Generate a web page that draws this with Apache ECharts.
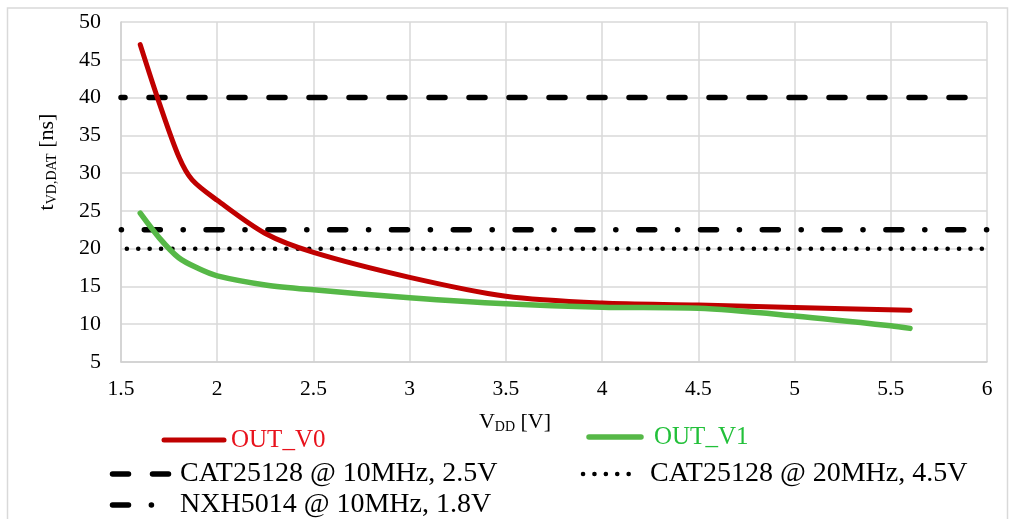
<!DOCTYPE html>
<html>
<head>
<meta charset="utf-8">
<script src="https://cdn.jsdelivr.net/npm/echarts@6/dist/echarts.min.js"></script>
<style>
  html, body { margin: 0; padding: 0; background: #fff; }
  #main { width: 1009px; height: 519px; }
</style>
</head>
<body>
<div id="main"></div>
<script>
// VDD [V] and tVD,DAT [ns]
var vddV0 = [1.6, 1.7, 1.8, 1.87, 2.0, 2.25, 2.5, 3.0, 3.5, 4.0, 4.5, 5.0, 5.6];
var tV0 = [47, 39.2, 32.2, 29.1, 26.4, 22.0, 19.5, 16.2, 13.7, 12.8, 12.55, 12.2, 11.85];
var vddV1 = [1.6, 1.7, 1.8, 1.9, 2.0, 2.25, 2.5, 3.0, 3.5, 4.0, 4.5, 5.0, 5.5, 5.6];
var tV1 = [24.7, 21.4, 18.8, 17.4, 16.4, 15.2, 14.55, 13.5, 12.7, 12.25, 12.1, 11.1, 9.8, 9.45];

// reference limits (horizontal lines over the whole range)
var refNames = ['CAT25128 @ 10MHz, 2.5V', 'CAT25128 @ 20MHz, 4.5V', 'NXH5014 @ 10MHz, 1.8V'];
var refLevels = [40, 20, 22.5];
var refRange = [1.5, 6];

var xTicks = [1.5, 6, 0.5];
var yTicks = [5, 50, 5];

var serif = 'Liberation Serif';

// line styles shared by the plot lines and the legend keys
var styleCat10 = { stroke: '#000', lineWidth: 5.5, lineDash: [16, 24], lineCap: 'round' };
var styleCat20 = { stroke: '#000', lineWidth: 4.5, lineDash: [0.1, 11.3], lineCap: 'round' };
var styleNxh = { stroke: '#000', lineWidth: 5.5, lineDash: [16, 22.85, 0.1, 22.85], lineCap: 'round' };

function pairs(xs, ys) {
    var out = [];
    for (var i = 0; i < xs.length; i++) {
        out.push([xs[i], ys[i]]);
    }
    return out;
}

function flat(level) {
    return [[refRange[0], level], [refRange[1], level]];
}

// legend key: a short line and its label
function key(x1, x2, y, style, text, textX, size, color) {
    return [
        {
            type: 'line', silent: true,
            shape: { x1: x1, y1: y, x2: x2, y2: y },
            style: style
        },
        {
            type: 'text', silent: true,
            x: textX, y: y,
            style: {
                text: text, fill: color, font: size + 'px "' + serif + '"',
                textVerticalAlign: 'middle', verticalAlign: 'middle'
            }
        }
    ];
}

var legendItems = [].concat(
    key(164, 224, 440, { stroke: '#c00000', lineWidth: 5, lineCap: 'round' }, 'OUT_V0', 231, 25, '#e8121c'),
    key(589, 641, 437, { stroke: '#56b847', lineWidth: 5.5, lineCap: 'round' }, 'OUT_V1', 654, 25, '#22c03a'),
    key(112.5, 169.5, 474, styleCat10, refNames[0], 180, 28, '#000'),
    key(583, 640, 474, styleCat20, refNames[1], 650, 28, '#000'),
    key(112.5, 154, 505, styleNxh, refNames[2], 180, 28, '#000')
);

var chart = echarts.init(document.getElementById('main'));

var option = {
    animation: false,
    backgroundColor: '#fff',
    grid: { left: 121, right: 22, top: 22, bottom: 157 },
    graphic: [{
        type: 'rect',
        shape: { x: 7.5, y: 8, width: 1000, height: 530 },
        style: { fill: 'none', stroke: '#d9d9d9', lineWidth: 1.5 },
        silent: true
    }].concat(legendItems),
    xAxis: {
        type: 'value',
        min: xTicks[0], max: xTicks[1], interval: xTicks[2],
        axisLine: { lineStyle: { color: '#d0d0d0', width: 1.5 } },
        axisTick: { show: false },
        splitLine: { lineStyle: { color: '#d9d9d9', width: 1.5 } },
        axisLabel: { fontFamily: serif, fontSize: 21.5, color: '#000', margin: 16 },
        name: '{v|V}{s|DD}{v| [V]}',
        nameLocation: 'middle',
        nameGap: 48,
        nameTextStyle: {
            padding: [0, 78, 0, 0],
            rich: {
                v: { fontFamily: serif, fontSize: 22, lineHeight: 24, color: '#000' },
                s: { fontFamily: serif, fontSize: 14, lineHeight: 12, verticalAlign: 'bottom', color: '#000' }
            }
        }
    },
    yAxis: {
        type: 'value',
        min: yTicks[0], max: yTicks[1], interval: yTicks[2],
        axisLine: { show: true, lineStyle: { color: '#d0d0d0', width: 1.5 } },
        axisTick: { show: false },
        splitLine: { lineStyle: { color: '#d9d9d9', width: 1.5 } },
        axisLabel: { fontFamily: serif, fontSize: 22, color: '#000', margin: 20 },
        name: '{v|t}{s|VD,DAT}{v| [ns]}',
        nameLocation: 'middle',
        nameRotate: 90,
        nameGap: 62,
        nameTextStyle: {
            padding: [0, 0, 0, 60],
            rich: {
                v: { fontFamily: serif, fontSize: 22, lineHeight: 24, color: '#000' },
                s: { fontFamily: serif, fontSize: 14, lineHeight: 12, verticalAlign: 'bottom', color: '#000' }
            }
        }
    },
    series: [
        {
            name: refNames[0], type: 'line', symbol: 'none', z: 3,
            data: flat(refLevels[0]),
            lineStyle: { color: '#000', width: styleCat10.lineWidth, type: styleCat10.lineDash, dashOffset: 12, cap: 'round' }
        },
        {
            name: refNames[1], type: 'line', symbol: 'none', z: 3,
            data: flat(refLevels[1]),
            lineStyle: { color: '#000', width: styleCat20.lineWidth, type: styleCat20.lineDash, dashOffset: 5.6, cap: 'round' }
        },
        {
            name: refNames[2], type: 'line', symbol: 'none', z: 3,
            data: flat(refLevels[2]),
            lineStyle: { color: '#000', width: styleNxh.lineWidth, type: styleNxh.lineDash, dashOffset: 38.5, cap: 'round' }
        },
        {
            name: 'OUT_V0', type: 'line', symbol: 'none', z: 4,
            smooth: 0.3,
            data: pairs(vddV0, tV0),
            lineStyle: { color: '#c00000', width: 5, cap: 'round', join: 'round' }
        },
        {
            name: 'OUT_V1', type: 'line', symbol: 'none', z: 4,
            smooth: 0.3,
            data: pairs(vddV1, tV1),
            lineStyle: { color: '#56b847', width: 5.5, cap: 'round', join: 'round' }
        }
    ]
};

chart.setOption(option);
</script>
</body>
</html>
